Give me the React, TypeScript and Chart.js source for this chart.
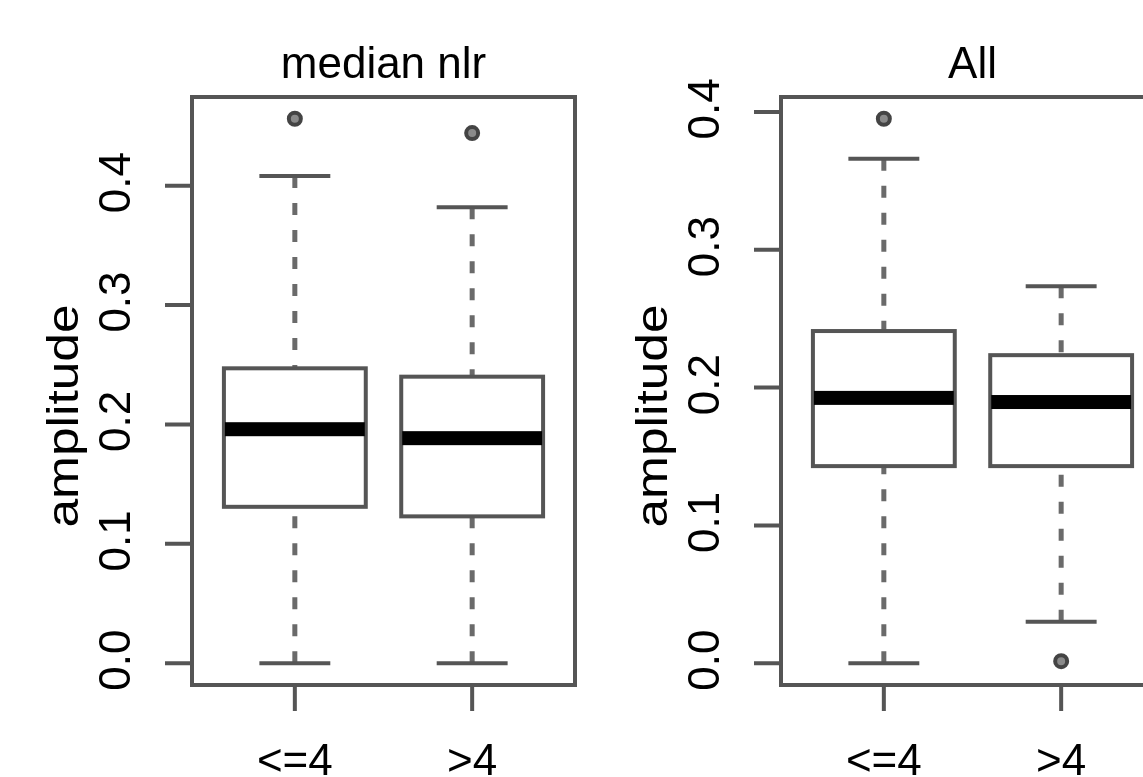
import React, { useEffect, useRef } from "react";
import { Chart, registerables } from "chart.js";

Chart.register(...registerables);

// ---------- data ----------
const categories = ["<=4", ">4"];
const yTickValues = [0, 0.1, 0.2, 0.3, 0.4];
const yTickLabels = ["0.0", "0.1", "0.2", "0.3", "0.4"];
const yAxisTitle = "amplitude";

// panel 1: "median nlr"
const p1Title = "median nlr";
const p1Lower = [0.0, 0.0];
const p1Q1 = [0.131, 0.123];
const p1Median = [0.196, 0.1885];
const p1Q3 = [0.247, 0.240];
const p1Upper = [0.408, 0.382];
const p1Outliers = [[0.456], [0.444]];

// panel 2: "All"
const p2Title = "All";
const p2Lower = [0.0, 0.030];
const p2Q1 = [0.143, 0.143];
const p2Median = [0.1925, 0.1895];
const p2Q3 = [0.241, 0.2235];
const p2Upper = [0.366, 0.2735];
const p2Outliers = [[0.395], [0.0015]];

const FONT = '44px "Liberation Sans", Arial, Helvetica, sans-serif';
const LINE = "#555555";

type Panel = {
  title: string;
  lower: number[];
  q1: number[];
  median: number[];
  q3: number[];
  upper: number[];
  outliers: number[][];
};

const panels: Panel[] = [
  { title: p1Title, lower: p1Lower, q1: p1Q1, median: p1Median, q3: p1Q3, upper: p1Upper, outliers: p1Outliers },
  { title: p2Title, lower: p2Lower, q1: p2Q1, median: p2Median, q3: p2Q3, upper: p2Upper, outliers: p2Outliers },
];

function makeBoxPlugin(panel: Panel) {
  return {
    id: "rbox",
    beforeDatasetsDraw(chart: any) {
      const ctx = chart.ctx as CanvasRenderingContext2D;
      const xs = chart.scales.x;
      const ys = chart.scales.y;
      ctx.save();
      categories.forEach((_, i) => {
        const cx = xs.getPixelForValue(i + 1);
        const bl = xs.getPixelForValue(i + 1 - 0.4);
        const br = xs.getPixelForValue(i + 1 + 0.4);
        const cl = xs.getPixelForValue(i + 1 - 0.2);
        const cr = xs.getPixelForValue(i + 1 + 0.2);
        const yLo = ys.getPixelForValue(panel.lower[i]);
        const yQ1 = ys.getPixelForValue(panel.q1[i]);
        const yMed = ys.getPixelForValue(panel.median[i]);
        const yQ3 = ys.getPixelForValue(panel.q3[i]);
        const yUp = ys.getPixelForValue(panel.upper[i]);
        // dashed whiskers
        ctx.strokeStyle = "#6a6a6a";
        ctx.lineWidth = 5;
        ctx.setLineDash([12, 15]);
        ctx.beginPath();
        ctx.moveTo(cx, yUp);
        ctx.lineTo(cx, yQ3);
        ctx.moveTo(cx, yLo);
        ctx.lineTo(cx, yQ1);
        ctx.stroke();
        ctx.setLineDash([]);
        // caps
        ctx.strokeStyle = LINE;
        ctx.lineWidth = 4;
        ctx.beginPath();
        ctx.moveTo(cl, yUp);
        ctx.lineTo(cr, yUp);
        ctx.moveTo(cl, yLo);
        ctx.lineTo(cr, yLo);
        ctx.stroke();
        // box
        ctx.fillStyle = "#ffffff";
        ctx.fillRect(bl, yQ3, br - bl, yQ1 - yQ3);
        ctx.lineWidth = 4;
        ctx.strokeRect(bl, yQ3, br - bl, yQ1 - yQ3);
        // median
        ctx.fillStyle = "#000000";
        ctx.fillRect(bl + 1, yMed - 7, br - bl - 2, 14);
      });
      ctx.restore();
    },
    afterDraw(chart: any) {
      const ctx = chart.ctx as CanvasRenderingContext2D;
      const xs = chart.scales.x;
      const ys = chart.scales.y;
      const ca = chart.chartArea;
      ctx.save();
      // frame
      ctx.strokeStyle = LINE;
      ctx.lineWidth = 4;
      ctx.strokeRect(ca.left, ca.top, ca.right - ca.left, ca.bottom - ca.top);
      // y ticks
      ctx.beginPath();
      yTickValues.forEach((v) => {
        const y = ys.getPixelForValue(v);
        ctx.moveTo(ca.left - 27, y);
        ctx.lineTo(ca.left, y);
      });
      // x ticks
      categories.forEach((_, i) => {
        const x = xs.getPixelForValue(i + 1);
        ctx.moveTo(x, ca.bottom);
        ctx.lineTo(x, ca.bottom + 26);
      });
      ctx.stroke();
      // texts
      ctx.fillStyle = "#000000";
      ctx.font = FONT;
      ctx.textAlign = "center";
      ctx.textBaseline = "alphabetic";
      ctx.fillText(panel.title, (ca.left + ca.right) / 2, 78);
      categories.forEach((c, i) => {
        ctx.fillText(c, xs.getPixelForValue(i + 1), 775);
      });
      yTickValues.forEach((v, k) => {
        const y = ys.getPixelForValue(v);
        ctx.save();
        ctx.translate(ca.left - 62, y - 3);
        ctx.rotate(-Math.PI / 2);
        ctx.fillText(yTickLabels[k], 0, 0);
        ctx.restore();
      });
      ctx.save();
      ctx.translate(ca.left - 114, 416);
      ctx.rotate(-Math.PI / 2);
      ctx.scale(1.17, 1);
      ctx.fillText(yAxisTitle, 0, 0);
      ctx.restore();
      ctx.restore();
    },
  };
}

function BoxPanel({ panel, left }: { panel: Panel; left: number }) {
  const ref = useRef<HTMLCanvasElement | null>(null);
  useEffect(() => {
    const canvas = ref.current;
    if (!canvas) return;
    const all: number[] = [];
    panel.lower.forEach((v) => all.push(v));
    panel.upper.forEach((v) => all.push(v));
    panel.outliers.forEach((arr) => arr.forEach((v) => all.push(v)));
    const dMin = Math.min(...all);
    const dMax = Math.max(...all);
    const ext = (dMax - dMin) * 0.04;
    const n = categories.length;
    const xExt = n * 0.04;
    const points: { x: number; y: number }[] = [];
    panel.outliers.forEach((arr, i) => arr.forEach((v) => points.push({ x: i + 1, y: v })));
    const chart = new Chart(canvas, {
      type: "scatter",
      data: {
        datasets: [
          {
            data: points,
            pointRadius: 6,
            pointBorderWidth: 4,
            borderColor: "#444444",
            backgroundColor: "#8a8a8a",
            pointHoverRadius: 6,
          },
        ],
      },
      options: {
        responsive: false,
        animation: false,
        events: [],
        layout: { padding: { left: 192, right: 25, top: 97, bottom: 92 } },
        scales: {
          x: { type: "linear", min: 0.5 - xExt, max: n + 0.5 + xExt, display: false },
          y: { type: "linear", min: dMin - ext, max: dMax + ext, display: false },
        },
        plugins: { legend: { display: false }, tooltip: { enabled: false } },
      },
      plugins: [makeBoxPlugin(panel)],
    } as any);
    return () => chart.destroy();
  }, [panel]);
  return (
    <canvas
      ref={ref}
      width={600}
      height={777}
      style={{ position: "absolute", left, top: 0, width: 600, height: 777 }}
    />
  );
}

export default function App() {
  return (
    <div
      style={{
        position: "absolute",
        left: 0,
        top: 0,
        width: 1143,
        height: 777,
        overflow: "hidden",
        background: "#ffffff",
      }}
    >
      <BoxPanel panel={panels[0]} left={0} />
      <BoxPanel panel={panels[1]} left={589} />
    </div>
  );
}
